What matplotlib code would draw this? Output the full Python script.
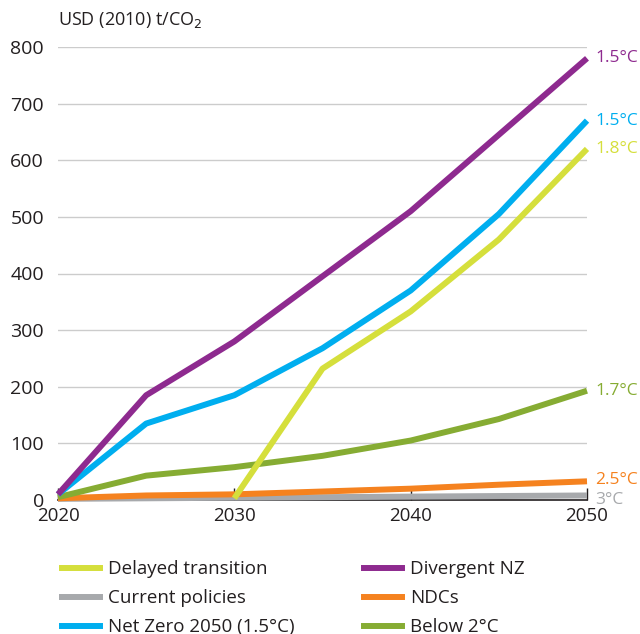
import numpy as np
import matplotlib.pyplot as plt

plt.rcParams['font.family'] = ['Open Sans', 'DejaVu Sans']

years = [2020, 2025, 2030, 2035, 2040, 2045, 2050]
delayed = [np.nan, np.nan, 3, 232, 333, 460, 620]
current = [2, 3, 4, 5, 6, 7, 8]
netzero = [10, 135, 185, 268, 370, 505, 670]
divergent = [10, 185, 280, 395, 510, 645, 780]
ndcs = [3, 8, 10, 15, 20, 27, 33]
below2 = [5, 43, 58, 78, 105, 143, 193]

c_delayed = "#d5df3c"
c_current = "#a7a9ac"
c_netzero = "#00aeef"
c_divergent = "#8e2a8f"
c_ndcs = "#f5821f"
c_below2 = "#86ac33"

fig = plt.figure(figsize=(6.4, 6.34), dpi=100)
ax = fig.add_axes([58/640, 134/634, 529/640, 453/634])

lw = 4.3
ax.plot(years, current, color=c_current, lw=lw, solid_capstyle='butt', clip_on=False, zorder=3)
ax.plot(years, ndcs, color=c_ndcs, lw=lw, solid_capstyle='butt', clip_on=False, zorder=4)
ax.plot(years, below2, color=c_below2, lw=lw, solid_capstyle='butt', clip_on=False, zorder=5)
ax.plot(years, delayed, color=c_delayed, lw=lw, solid_capstyle='butt', clip_on=False, zorder=6)
ax.plot(years, netzero, color=c_netzero, lw=lw, solid_capstyle='butt', clip_on=False, zorder=7)
ax.plot(years, divergent, color=c_divergent, lw=lw, solid_capstyle='butt', clip_on=False, zorder=8)

ax.set_xlim(2020, 2050)
ax.set_ylim(0, 800)
ax.set_yticks(range(0, 801, 100))
ax.set_xticks([2020, 2030, 2040, 2050])
ax.grid(axis='y', color='#cccccc', lw=1)
ax.set_axisbelow(True)
for s in ['top', 'right', 'left']:
    ax.spines[s].set_visible(False)
ax.spines['bottom'].set_color('#231f20')
ax.spines['bottom'].set_linewidth(1.2)
ax.tick_params(axis='y', length=0, pad=10, labelsize=14, labelcolor='#231f20')
ax.tick_params(axis='x', direction='in', length=9, width=1, color='#231f20',
               pad=5, labelsize=13.5, labelcolor='#231f20')

# end labels
end_labels = [(780, "1.5°C", c_divergent), (670, "1.5°C", c_netzero),
              (620, "1.8°C", c_delayed), (193, "1.7°C", c_below2),
              (35, "2.5°C", c_ndcs), (0, "3°C", c_current)]
for yv, txt, col in end_labels:
    ax.annotate(txt, (2050, yv), xytext=(6, 0), textcoords='offset points',
                va='center', ha='left', color=col, fontsize=12.5, annotation_clip=False)

fig.text(58/640, 1 - 20/634, "USD (2010) t/CO$_2$", fontsize=13, color='#231f20',
         va='center', ha='left')

# legend
handles = [
    plt.Line2D([], [], color=c_delayed, lw=lw),
    plt.Line2D([], [], color=c_current, lw=lw),
    plt.Line2D([], [], color=c_netzero, lw=lw),
    plt.Line2D([], [], color=c_divergent, lw=lw),
    plt.Line2D([], [], color=c_ndcs, lw=lw),
    plt.Line2D([], [], color=c_below2, lw=lw),
]
labels = ["Delayed transition", "Current policies", "Net Zero 2050 (1.5°C)",
          "Divergent NZ", "NDCs", "Below 2°C"]
leg = fig.legend(handles, labels, ncol=2, loc='upper left',
                 bbox_to_anchor=(53/640, 1 - 551/634), frameon=False,
                 fontsize=13.5, handlelength=2.0, handletextpad=0.45,
                 columnspacing=3.7, labelspacing=0.58, borderpad=0)
for t in leg.get_texts():
    t.set_color('#231f20')

fig.savefig("out.png", dpi=100)
